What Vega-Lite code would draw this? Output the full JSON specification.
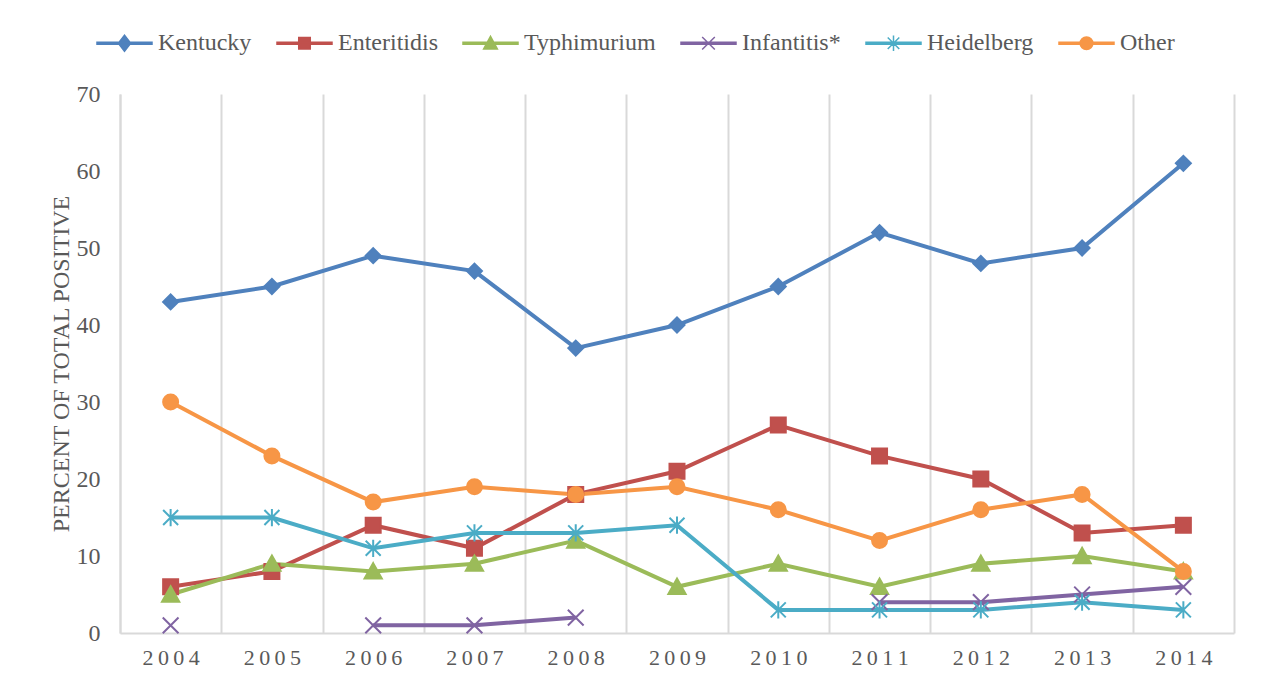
{
  "$schema": "https://vega.github.io/schema/vega-lite/v6.json",
  "width": 1114,
  "height": 539,
  "autosize": {"type": "none"},
  "padding": {"left": 120, "top": 94, "right": 27, "bottom": 50},
  "background": "white",
  "config": {"view": {"stroke": null}},
  "data": {
    "values": [
      {"year": "2004", "series": "Kentucky", "v": 43},
      {"year": "2005", "series": "Kentucky", "v": 45},
      {"year": "2006", "series": "Kentucky", "v": 49},
      {"year": "2007", "series": "Kentucky", "v": 47},
      {"year": "2008", "series": "Kentucky", "v": 37},
      {"year": "2009", "series": "Kentucky", "v": 40},
      {"year": "2010", "series": "Kentucky", "v": 45},
      {"year": "2011", "series": "Kentucky", "v": 52},
      {"year": "2012", "series": "Kentucky", "v": 48},
      {"year": "2013", "series": "Kentucky", "v": 50},
      {"year": "2014", "series": "Kentucky", "v": 61},
      {"year": "2004", "series": "Enteritidis", "v": 6},
      {"year": "2005", "series": "Enteritidis", "v": 8},
      {"year": "2006", "series": "Enteritidis", "v": 14},
      {"year": "2007", "series": "Enteritidis", "v": 11},
      {"year": "2008", "series": "Enteritidis", "v": 18},
      {"year": "2009", "series": "Enteritidis", "v": 21},
      {"year": "2010", "series": "Enteritidis", "v": 27},
      {"year": "2011", "series": "Enteritidis", "v": 23},
      {"year": "2012", "series": "Enteritidis", "v": 20},
      {"year": "2013", "series": "Enteritidis", "v": 13},
      {"year": "2014", "series": "Enteritidis", "v": 14},
      {"year": "2004", "series": "Typhimurium", "v": 5},
      {"year": "2005", "series": "Typhimurium", "v": 9},
      {"year": "2006", "series": "Typhimurium", "v": 8},
      {"year": "2007", "series": "Typhimurium", "v": 9},
      {"year": "2008", "series": "Typhimurium", "v": 12},
      {"year": "2009", "series": "Typhimurium", "v": 6},
      {"year": "2010", "series": "Typhimurium", "v": 9},
      {"year": "2011", "series": "Typhimurium", "v": 6},
      {"year": "2012", "series": "Typhimurium", "v": 9},
      {"year": "2013", "series": "Typhimurium", "v": 10},
      {"year": "2014", "series": "Typhimurium", "v": 8},
      {"year": "2004", "series": "Infantitis*", "v": 1},
      {"year": "2005", "series": "Infantitis*", "v": null},
      {"year": "2006", "series": "Infantitis*", "v": 1},
      {"year": "2007", "series": "Infantitis*", "v": 1},
      {"year": "2008", "series": "Infantitis*", "v": 2},
      {"year": "2009", "series": "Infantitis*", "v": null},
      {"year": "2010", "series": "Infantitis*", "v": null},
      {"year": "2011", "series": "Infantitis*", "v": 4},
      {"year": "2012", "series": "Infantitis*", "v": 4},
      {"year": "2013", "series": "Infantitis*", "v": 5},
      {"year": "2014", "series": "Infantitis*", "v": 6},
      {"year": "2004", "series": "Heidelberg", "v": 15},
      {"year": "2005", "series": "Heidelberg", "v": 15},
      {"year": "2006", "series": "Heidelberg", "v": 11},
      {"year": "2007", "series": "Heidelberg", "v": 13},
      {"year": "2008", "series": "Heidelberg", "v": 13},
      {"year": "2009", "series": "Heidelberg", "v": 14},
      {"year": "2010", "series": "Heidelberg", "v": 3},
      {"year": "2011", "series": "Heidelberg", "v": 3},
      {"year": "2012", "series": "Heidelberg", "v": 3},
      {"year": "2013", "series": "Heidelberg", "v": 4},
      {"year": "2014", "series": "Heidelberg", "v": 3},
      {"year": "2004", "series": "Other", "v": 30},
      {"year": "2005", "series": "Other", "v": 23},
      {"year": "2006", "series": "Other", "v": 17},
      {"year": "2007", "series": "Other", "v": 19},
      {"year": "2008", "series": "Other", "v": 18},
      {"year": "2009", "series": "Other", "v": 19},
      {"year": "2010", "series": "Other", "v": 16},
      {"year": "2011", "series": "Other", "v": 12},
      {"year": "2012", "series": "Other", "v": 16},
      {"year": "2013", "series": "Other", "v": 18},
      {"year": "2014", "series": "Other", "v": 8}
    ]
  },
  "encoding": {
    "x": {
      "field": "year",
      "type": "ordinal",
      "scale": {"type": "band", "paddingInner": 0, "paddingOuter": 0},
      "axis": {
        "title": null,
        "tickBand": "extent",
        "grid": true,
        "gridColor": "#d9d9d9",
        "gridWidth": 2,
        "ticks": false,
        "tickSize": 0,
        "domainColor": "#d9d9d9",
        "domainWidth": 2,
        "labelAngle": 0,
        "labelFont": "Liberation Serif",
        "labelFontSize": 22,
        "labelColor": "#595959",
        "labelPadding": 14,
        "labelExpr": "join(split(datum.label, ''), '\u2009')"
      }
    },
    "y": {
      "field": "v",
      "type": "quantitative",
      "scale": {"domain": [0, 70], "nice": false},
      "axis": {
        "values": [0, 10, 20, 30, 40, 50, 60, 70],
        "grid": false,
        "ticks": false,
        "tickSize": 0,
        "domainColor": "#d9d9d9",
        "domainWidth": 2,
        "labelFont": "Liberation Serif",
        "labelFontSize": 24,
        "labelColor": "#595959",
        "labelPadding": 20,
        "title": "PERCENT OF TOTAL POSITIVE",
        "titleFont": "Liberation Serif",
        "titleFontSize": 24,
        "titleFontWeight": "normal",
        "titleColor": "#595959",
        "titlePadding": 3
      }
    },
    "color": {
      "field": "series",
      "type": "nominal",
      "scale": {
        "domain": ["Kentucky", "Enteritidis", "Typhimurium", "Infantitis*", "Heidelberg", "Other"],
        "range": ["#4F81BD", "#C0504D", "#9BBB59", "#8064A2", "#4BACC6", "#F79646"]
      },
      "legend": {
        "orient": "none",
        "legendX": -24,
        "legendY": -79.5,
        "direction": "horizontal",
        "title": null,
        "symbolSize": 3025,
        "symbolStrokeWidth": 1.5,
        "labelFont": "Liberation Serif",
        "labelFontSize": 24,
        "labelColor": "#595959",
        "labelOffset": 5,
        "columnPadding": 22
      }
    }
  },
  "layer": [
    {
      "mark": {"type": "line", "strokeWidth": 4, "invalid": "break-paths-filter-domains"}
    },
    {
      "transform": [{"filter": "datum.v === -999"}],
      "mark": {"type": "point", "filled": true, "strokeWidth": 1.5, "opacity": 1},
      "encoding": {
        "shape": {
          "field": "series",
          "type": "nominal",
          "scale": {
            "domain": ["Kentucky", "Enteritidis", "Typhimurium", "Infantitis*", "Heidelberg", "Other"],
            "range": [
              "M-1,-0.04L1,-0.04L1,0.04L-1,0.04ZM0,-0.29L0.225,0L0,0.29L-0.225,0Z",
              "M-1,-0.04L1,-0.04L1,0.04L-1,0.04ZM-0.21,-0.21L0.21,-0.21L0.21,0.21L-0.21,0.21Z",
              "M-1,-0.04L1,-0.04L1,0.04L-1,0.04ZM0,-0.25L0.25,0.21L-0.25,0.21Z",
              "M-1,-0.04L1,-0.04L1,0.04L-1,0.04ZM-0.23,-0.23L0.23,0.23M-0.23,0.23L0.23,-0.23",
              "M-1,-0.04L1,-0.04L1,0.04L-1,0.04ZM-0.21,-0.21L0.21,0.21M-0.21,0.21L0.21,-0.21M0,-0.28L0,0.28",
              "M-1,-0.04L1,-0.04L1,0.04L-1,0.04ZM0.23,0C0.23,0.127,0.127,0.23,0,0.23C-0.127,0.23,-0.23,0.127,-0.23,0C-0.23,-0.127,-0.127,-0.23,0,-0.23C0.127,-0.23,0.23,-0.127,0.23,0Z"
            ]
          }
        },
        "stroke": {
          "field": "series",
          "type": "nominal",
          "scale": {
            "domain": ["Kentucky", "Enteritidis", "Typhimurium", "Infantitis*", "Heidelberg", "Other"],
            "range": ["#4F81BD", "#C0504D", "#9BBB59", "#8064A2", "#4BACC6", "#F79646"]
          },
          "legend": null
        }
      }
    },
    {
      "encoding": {
        "stroke": {"field": "series", "type": "nominal", "legend": null}
      },
      "layer": [
        {
          "transform": [{"filter": "datum.series === 'Kentucky'"}],
          "mark": {"type": "point", "filled": true, "strokeWidth": 2, "size": 225, "opacity": 1, "shape": "diamond"}
        },
        {
          "transform": [{"filter": "datum.series === 'Enteritidis'"}],
          "mark": {"type": "point", "filled": true, "strokeWidth": 2, "size": 225, "opacity": 1, "shape": "square"}
        },
        {
          "transform": [{"filter": "datum.series === 'Typhimurium'"}],
          "mark": {"type": "point", "filled": true, "strokeWidth": 2, "size": 225, "opacity": 1, "shape": "M0,-1.1L1.15,0.95L-1.15,0.95Z"}
        },
        {
          "transform": [{"filter": "datum.series === 'Infantitis*'"}],
          "mark": {"type": "point", "filled": true, "strokeWidth": 2, "size": 225, "opacity": 1, "shape": "M-1.05,-1.05L1.05,1.05M-1.05,1.05L1.05,-1.05"}
        },
        {
          "transform": [{"filter": "datum.series === 'Heidelberg'"}],
          "mark": {"type": "point", "filled": true, "strokeWidth": 2, "size": 225, "opacity": 1, "shape": "M-1,-1L1,1M-1,1L1,-1M0,-1.15L0,1.15"}
        },
        {
          "transform": [{"filter": "datum.series === 'Other'"}],
          "mark": {"type": "point", "filled": true, "strokeWidth": 2, "size": 225, "opacity": 1, "shape": "circle"}
        }
      ]
    }
  ]
}
